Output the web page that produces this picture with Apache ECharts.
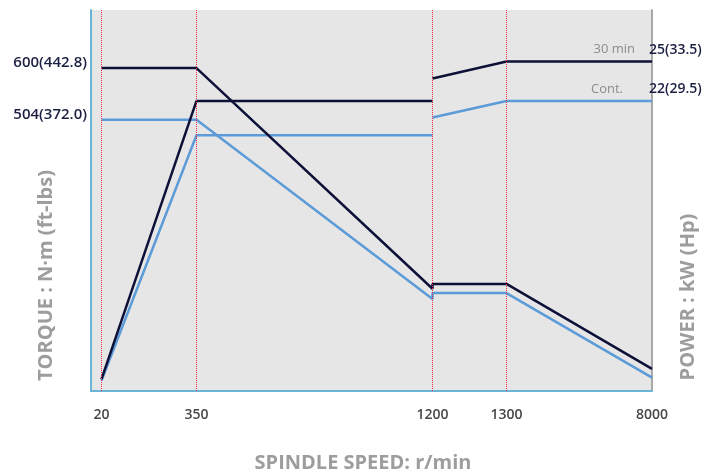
<!DOCTYPE html>
<html>
<head>
<meta charset="utf-8">
<script src="https://cdn.jsdelivr.net/npm/echarts@6/dist/echarts.min.js"></script>
<style>
  html, body { margin: 0; padding: 0; background: #fff; }
  #chart { width: 718px; height: 476px; }
</style>
</head>
<body>
<div id="chart"></div>
<script>
// spindle speed ticks (r/min)
var speedTicks = [20, 350, 1200, 1300, 8000];

// torque curves, N·m (left axis)
var torqueSpeed = [20, 350, 1200, 1200, 1300, 8000];
var torque30min = [600, 600, 190, 199, 199, 41];
var torqueCont = [504, 504, 171, 182, 182, 25];

// power curves, kW (right axis), null = break in the line
var powerSpeed = [20, 350, 1200, 1200, 1200, 1300, 8000];
var power30min = [0.9, 22, 22, null, 23.7, 25, 25];
var powerCont = [0.8, 19.4, 19.4, null, 20.75, 22, 22];

var torqueMarks = [504, 600];
var powerMarks = [22, 25];

// the speed axis is not linear: each tick gets its own slot
function rpmToAxis(rpm) {
    var slot = [10.5, 105.5, 341.5, 415.5, 561];
    for (var i = 1; i < speedTicks.length; i++) {
        if (rpm <= speedTicks[i]) {
            var t = (rpm - speedTicks[i - 1]) / (speedTicks[i] - speedTicks[i - 1]);
            return slot[i - 1] + t * (slot[i] - slot[i - 1]);
        }
    }
    return slot[slot.length - 1];
}

function pairs(xs, ys) {
    return xs.map(function (x, i) {
        return [rpmToAxis(x), ys[i] == null ? '-' : ys[i]];
    });
}

var font = '"Open Sans", "Noto Sans", sans-serif';
var dark = '#0d1138';
var light = '#5b9bd8';
var red = '#ee2a48';

var nameStyle = {
    color: '#9d9d9d',
    fontSize: 20,
    fontWeight: 'bold',
    fontFamily: font
};

var chart = echarts.init(document.getElementById('chart'));
var option = {
    animation: false,
    textStyle: { fontFamily: font },
    grid: {
        show: true,
        left: 91,
        right: 66,
        top: 10,
        bottom: 85,
        outerBoundsMode: 'none',
        containLabel: false,
        backgroundColor: '#e6e6e6',
        borderWidth: 0
    },
    xAxis: {
        type: 'value',
        min: 0,
        max: 561,
        name: 'SPINDLE SPEED: r/min',
        nameLocation: 'middle',
        nameGap: 62,
        nameMoveOverlap: false,
        nameTextStyle: Object.assign({ padding: [0, 17, 0, 0] }, nameStyle),
        axisLine: { lineStyle: { color: '#6bb4d8', width: 2 } },
        axisTick: { show: false },
        splitLine: { show: false },
        axisLabel: {
            customValues: speedTicks.map(rpmToAxis),
            formatter: function (v) {
                for (var i = 0; i < speedTicks.length; i++) {
                    if (Math.abs(rpmToAxis(speedTicks[i]) - v) < 0.5) return speedTicks[i];
                }
                return '';
            },
            color: '#474747',
            fontSize: 14,
            fontWeight: 600,
            margin: 17,
            fontFamily: font
        }
    },
    yAxis: [
        {
            type: 'value',
            min: 0,
            max: 708,
            position: 'left',
            name: 'TORQUE : N·m (ft-lbs)',
            nameLocation: 'middle',
            nameRotate: 90,
            nameGap: 35,
            nameMoveOverlap: false,
            nameTextStyle: Object.assign({ padding: [0, 150, 0, 0] }, nameStyle),
            axisLine: { show: true, lineStyle: { color: '#6bb4d8', width: 2 } },
            axisTick: { show: false },
            splitLine: { show: false },
            axisLabel: {
                customValues: torqueMarks,
                formatter: function (v) {
                    return v + '(' + (v * 0.738).toFixed(1) + ')';
                },
                color: '#1b1f42',
                fontSize: 15,
                fontWeight: 600,
                margin: 4,
                verticalAlign: 'bottom',
                lineHeight: 11,
                fontFamily: font
            }
        },
        {
            type: 'value',
            min: 0,
            max: 28.9,
            position: 'right',
            name: 'POWER : kW (Hp)',
            nameLocation: 'middle',
            nameRotate: 90,
            nameGap: 26,
            nameMoveOverlap: false,
            nameTextStyle: Object.assign({ padding: [0, 193, 0, 0] }, nameStyle),
            axisLine: { show: true, lineStyle: { color: '#a8a8a8', width: 2 } },
            axisTick: { show: false },
            splitLine: { show: false },
            axisLabel: {
                customValues: powerMarks,
                formatter: function (v) {
                    return v + '(' + (v * 1.341).toFixed(1) + ')';
                },
                color: '#1b1f42',
                fontSize: 14,
                fontWeight: 600,
                margin: -3,
                verticalAlign: 'bottom',
                lineHeight: 23,
                fontFamily: font
            }
        }
    ],
    series: [
        {
            name: 'Cont. torque',
            type: 'line',
            yAxisIndex: 0,
            data: pairs(torqueSpeed, torqueCont),
            symbol: 'none',
            lineStyle: { color: light, width: 2.5 }
        },
        {
            name: 'Cont.',
            type: 'line',
            yAxisIndex: 1,
            data: pairs(powerSpeed, powerCont),
            symbol: 'none',
            lineStyle: { color: light, width: 2.5 },
            endLabel: {
                show: true,
                formatter: '{a}',
                align: 'right',
                distance: 0,
                offset: [-29, -12],
                color: '#8c8c8c',
                fontSize: 13,
                fontFamily: font
            }
        },
        {
            name: '30 min torque',
            type: 'line',
            yAxisIndex: 0,
            data: pairs(torqueSpeed, torque30min),
            symbol: 'none',
            lineStyle: { color: dark, width: 2.5 }
        },
        {
            name: '30 min',
            type: 'line',
            yAxisIndex: 1,
            data: pairs(powerSpeed, power30min),
            symbol: 'none',
            lineStyle: { color: dark, width: 2.5 },
            endLabel: {
                show: true,
                formatter: '{a}',
                align: 'right',
                distance: 0,
                offset: [-17, -12],
                color: '#8c8c8c',
                fontSize: 13,
                fontFamily: font
            }
        },
        {
            // red guide lines at the speed ticks
            name: 'guides',
            type: 'line',
            data: [],
            z: 1,
            markLine: {
                silent: true,
                symbol: 'none',
                label: { show: false },
                emphasis: { disabled: true },
                lineStyle: { color: red, type: 'dotted', width: 1, opacity: 1 },
                data: speedTicks.slice(0, 4).map(function (s) {
                    return { xAxis: rpmToAxis(s) };
                })
            }
        }
    ]
};

chart.setOption(option);
</script>
</body>
</html>
